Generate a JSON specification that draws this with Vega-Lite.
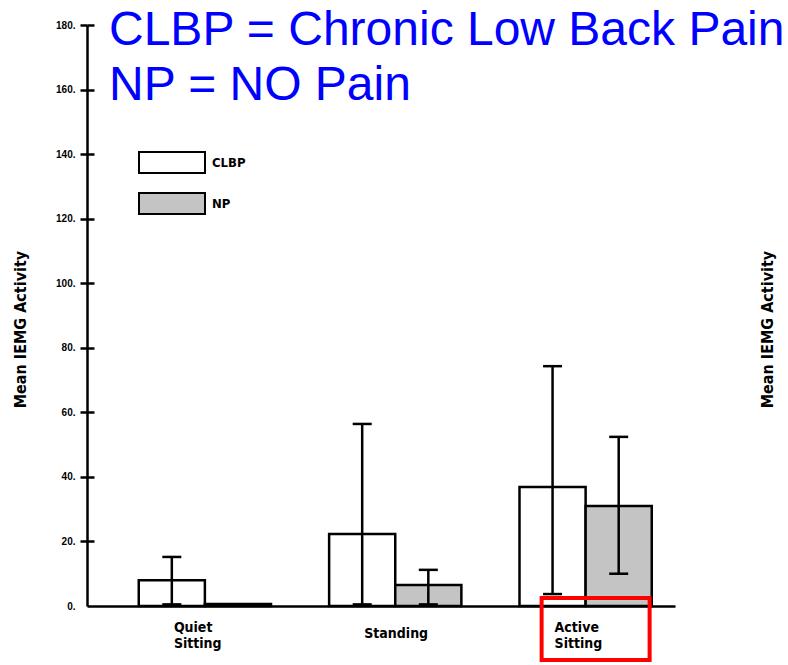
{
  "$schema": "https://vega.github.io/schema/vega-lite/v6.json",
  "width": 588,
  "height": 581,
  "autosize": {"type": "none"},
  "padding": {"left": 87, "top": 25, "right": 113, "bottom": 59},
  "background": "white",
  "config": {"view": {"stroke": null}, "font": "Liberation Sans"},
  "title": {
    "text": ["CLBP = Chronic Low Back Pain", "NP = NO Pain"],
    "anchor": "start",
    "frame": "group",
    "orient": "top",
    "font": "Liberation Sans",
    "fontSize": 48,
    "fontWeight": "normal",
    "color": "#0000ff",
    "lineHeight": 55,
    "baseline": "alphabetic",
    "offset": 0,
    "dx": 22,
    "dy": 128
  },
  "datasets": {
    "bars": [
      {"condition": "Quiet Sitting", "group": "CLBP", "mean": 8.0, "lo": 0.5, "hi": 15.2},
      {"condition": "Quiet Sitting", "group": "NP", "mean": 0.6, "lo": null, "hi": null},
      {"condition": "Standing", "group": "CLBP", "mean": 22.3, "lo": 0.5, "hi": 56.4},
      {"condition": "Standing", "group": "NP", "mean": 6.5, "lo": 0.5, "hi": 11.2},
      {"condition": "Active Sitting", "group": "CLBP", "mean": 36.9, "lo": 3.7, "hi": 74.3},
      {"condition": "Active Sitting", "group": "NP", "mean": 31.0, "lo": 10.0, "hi": 52.4}
    ],
    "highlight": [{"condition": "Active Sitting", "top": 2.5, "bottom": -16.7}]
  },
  "encoding": {
    "x": {
      "field": "condition",
      "type": "nominal",
      "sort": ["Quiet Sitting", "Standing", "Active Sitting"],
      "scale": {"paddingInner": 0.3053, "paddingOuter": 0.197, "align": 0.69},
      "axis": {
        "title": null,
        "ticks": false,
        "domainColor": "black",
        "domainWidth": 2.5,
        "labelAngle": 0,
        "labelExpr": "split(datum.label, ' ')",
        "labelAlign": "left",
        "labelOffset": -31,
        "labelBaseline": "middle",
        "labelPadding": {"condition": {"test": "datum.label == 'Standing'", "value": 27}, "value": 21},
        "labelFont": "DejaVu Sans Condensed",
        "labelFontWeight": "bold",
        "labelFontSize": 14,
        "labelLineHeight": 16,
        "labelColor": "black"
      }
    }
  },
  "resolve": {"axis": {"y": "independent"}},
  "layer": [
    {
      "data": {"name": "bars"},
      "mark": {"type": "bar", "stroke": "black", "strokeWidth": 2.5},
      "encoding": {
        "xOffset": {"field": "group", "type": "nominal", "scale": {"paddingInner": 0, "paddingOuter": 0}},
        "y": {
          "field": "mean",
          "type": "quantitative",
          "scale": {"domain": [0, 180], "nice": false},
          "axis": {
            "orient": "left",
            "values": [0, 20, 40, 60, 80, 100, 120, 140, 160, 180],
            "labelExpr": "datum.label + '.'",
            "grid": false,
            "tickSize": 7,
            "tickWidth": 2.5,
            "tickColor": "black",
            "tickOpacity": {"condition": {"test": "datum.value == 0", "value": 0}, "value": 1},
            "domainColor": "black",
            "domainWidth": 2.5,
            "labelFont": "Liberation Sans",
            "labelFontWeight": "bold",
            "labelFontSize": 10,
            "labelColor": "black",
            "labelPadding": 5,
            "title": "Mean IEMG Activity",
            "titleFont": "DejaVu Sans Condensed",
            "titleFontWeight": "bold",
            "titleFontSize": 16,
            "titleColor": "black",
            "titleAngle": 270,
            "titleX": -67,
            "titleY": 304,
            "titleAlign": "center",
            "titleBaseline": "middle"
          }
        },
        "fill": {
          "field": "group",
          "type": "nominal",
          "scale": {"domain": ["CLBP", "NP"], "range": ["white", "#c4c4c4"]},
          "legend": {
            "orient": "none",
            "legendX": 67.5,
            "legendY": 120,
            "title": null,
            "direction": "vertical",
            "symbolType": "M-2,-0.64H2V0.64H-2Z",
            "symbolSize": 1089,
            "symbolStrokeColor": "black",
            "symbolStrokeWidth": 2,
            "symbolOpacity": 1,
            "labelFont": "DejaVu Sans Condensed",
            "labelFontWeight": "bold",
            "labelFontSize": 13,
            "labelColor": "black",
            "labelOffset": 22.5,
            "rowPadding": 8,
            "padding": 0
          }
        }
      }
    },
    {
      "data": {"name": "bars"},
      "transform": [{"filter": "isValid(datum.hi)"}],
      "mark": {"type": "rule", "strokeWidth": 2.5, "color": "black"},
      "encoding": {
        "xOffset": {"field": "group", "type": "nominal", "scale": {"paddingInner": 0, "paddingOuter": 0}},
        "y": {
          "field": "lo",
          "type": "quantitative",
          "axis": {
            "orient": "right",
            "domain": false,
            "ticks": false,
            "labels": false,
            "grid": false,
            "title": "Mean IEMG Activity",
            "titleFont": "DejaVu Sans Condensed",
            "titleFontWeight": "bold",
            "titleFontSize": 16,
            "titleColor": "black",
            "titleAngle": 270,
            "titleX": 92,
            "titleY": 304,
            "titleAlign": "center",
            "titleBaseline": "middle"
          }
        },
        "y2": {"field": "hi"}
      }
    },
    {
      "data": {"name": "bars"},
      "transform": [{"filter": "isValid(datum.hi)"}],
      "mark": {"type": "tick", "orient": "horizontal", "size": 19, "thickness": 2.5, "color": "black", "opacity": 1},
      "encoding": {
        "xOffset": {"field": "group", "type": "nominal", "scale": {"paddingInner": 0, "paddingOuter": 0}},
        "y": {
          "field": "hi",
          "type": "quantitative",
          "axis": {
            "orient": "left",
            "offset": -7,
            "values": [20, 40, 60, 80, 100, 120, 140, 160, 180],
            "domain": false,
            "labels": false,
            "grid": false,
            "title": null,
            "tickSize": 7,
            "tickWidth": 2.5,
            "tickColor": "black"
          }
        }
      }
    },
    {
      "data": {"name": "bars"},
      "transform": [{"filter": "isValid(datum.lo)"}],
      "mark": {"type": "tick", "orient": "horizontal", "size": 19, "thickness": 2.5, "color": "black", "opacity": 1},
      "encoding": {
        "xOffset": {"field": "group", "type": "nominal", "scale": {"paddingInner": 0, "paddingOuter": 0}},
        "y": {"field": "lo", "type": "quantitative", "axis": null}
      }
    },
    {
      "data": {"name": "highlight"},
      "mark": {"type": "bar", "width": 108, "xOffset": 10, "fillOpacity": 0, "stroke": "#ff0000", "strokeWidth": 4},
      "encoding": {
        "y": {"field": "top", "type": "quantitative", "axis": null},
        "y2": {"field": "bottom"}
      }
    }
  ]
}
